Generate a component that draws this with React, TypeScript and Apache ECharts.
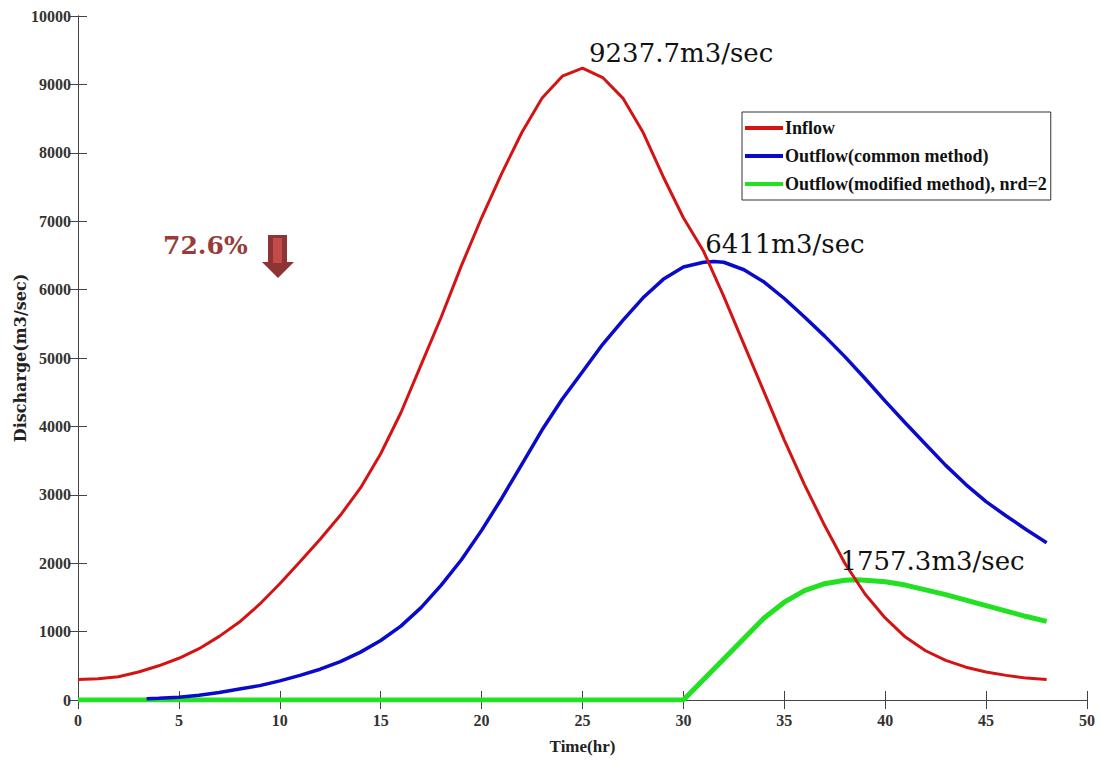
import React, { useEffect, useRef } from "react";
import * as echarts from "echarts";

const inflowTime = [0, 1, 2, 3, 4, 5, 6, 7, 8, 9, 10, 11, 12, 13, 14, 15, 16, 17, 18, 19, 20, 21, 22, 23, 24, 25, 26, 27, 28, 29, 30, 31, 32, 33, 34, 35, 36, 37, 38, 39, 40, 41, 42, 43, 44, 45, 46, 47, 48];
const inflow = [300, 310, 340, 410, 500, 610, 750, 930, 1140, 1400, 1700, 2020, 2350, 2700, 3100, 3600, 4200, 4900, 5600, 6350, 7050, 7700, 8300, 8800, 9120, 9237.7, 9100, 8800, 8300, 7650, 7050, 6560, 5900, 5200, 4500, 3800, 3150, 2550, 2000, 1550, 1200, 920, 720, 580, 480, 410, 360, 320, 300];

const commonTime = [3.4, 4, 5, 6, 7, 8, 9, 10, 11, 12, 13, 14, 15, 16, 17, 18, 19, 20, 21, 22, 23, 24, 25, 26, 27, 28, 29, 30, 31, 31.5, 32, 33, 34, 35, 36, 37, 38, 39, 40, 41, 42, 43, 44, 45, 46, 47, 48];
const commonOutflow = [20, 25, 40, 70, 110, 160, 210, 280, 360, 450, 560, 700, 870, 1080, 1350, 1680, 2050, 2480, 2950, 3450, 3950, 4400, 4800, 5200, 5550, 5880, 6150, 6330, 6400, 6411, 6400, 6290, 6110, 5870, 5600, 5320, 5020, 4700, 4370, 4050, 3740, 3430, 3150, 2900, 2690, 2490, 2300];

const modifiedTime = [0, 5, 10, 15, 20, 25, 30, 31, 32, 33, 34, 35, 36, 37, 38, 38.5, 39, 40, 41, 42, 43, 44, 45, 46, 47, 48];
const modifiedOutflow = [0, 0, 0, 0, 0, 0, 0, 300, 600, 900, 1200, 1430, 1600, 1700, 1750, 1757.3, 1752, 1730, 1680, 1610, 1540, 1460, 1380, 1300, 1220, 1150];

const seriesNames = ["Inflow", "Outflow(common method)", "Outflow(modified method), nrd=2"];
const seriesColors = ["#D41414", "#0A0ACB", "#22E022"];

const peakLabels = ["9237.7m3/sec", "6411m3/sec", "1757.3m3/sec"];
const peakCoords = [[25, 9237.7], [31.5, 6411], [38.5, 1757.3]];

const reductionText = "72.6%";

export default function App() {
  const ref = useRef<HTMLDivElement>(null);
  useEffect(() => {
    document.body.style.margin = "0";
    const chart = echarts.init(ref.current!, null, { renderer: "svg" });
    const tickFont = { fontFamily: "Liberation Serif", fontWeight: "bold", fontSize: 16, color: "#333" };
    const pair = (ts: number[], vs: number[]) => ts.map((t, i) => [t, vs[i]]);
    const peakOffsets = [[7, -15], [-8, -17], [-14, -18]];
    const mk = (i: number) => ({
      symbol: "circle",
      symbolSize: 1,
      itemStyle: { color: "rgba(0,0,0,0)" },
      label: {
        show: true,
        formatter: peakLabels[i],
        position: peakOffsets[i],
        align: "left",
        verticalAlign: "middle",
        fontFamily: "DejaVu Serif",
        fontSize: 26,
        color: "#111",
      },
      data: [{ coord: peakCoords[i] }],
    });
    const axisLine = { show: true, lineStyle: { color: "#444", width: 1 } };
    const tick = { show: true, inside: true, length: 9, lineStyle: { color: "#444" } };
    chart.setOption({
      animation: false,
      backgroundColor: "#fff",
      grid: { left: 78, right: 14, top: 16, bottom: 66, containLabel: false, outerBoundsMode: "none" },
      legend: {
        orient: "vertical",
        left: 742,
        top: 112,
        data: seriesNames,
        icon: "rect",
        itemWidth: 38,
        itemHeight: 4,
        itemGap: 10,
        padding: [7, 4, 7, 3],
        borderColor: "#333",
        borderWidth: 1,
        backgroundColor: "#fff",
        textStyle: { fontFamily: "Liberation Serif", fontWeight: "bold", fontSize: 18, color: "#111", padding: [0, 0, 0, -3] },
      },
      xAxis: [
        {
          type: "value",
          position: "bottom",
          min: 0,
          max: 50,
          interval: 5,
          name: "Time(hr)",
          nameLocation: "middle",
          nameGap: 38,
          nameMoveOverlap: false,
          nameTextStyle: { fontFamily: "Liberation Serif", fontWeight: "bold", fontSize: 17, color: "#222" },
          axisLine,
          axisTick: tick,
          axisLabel: { ...tickFont, margin: 12, formatter: (v: number) => String(v) },
          splitLine: { show: false },
        },
        {
          type: "value",
          position: "top",
          min: 0,
          max: 50,
          interval: 5,
          axisLine,
          axisTick: tick,
          axisLabel: { show: false },
          splitLine: { show: false },
        },
      ],
      yAxis: [
        {
          type: "value",
          position: "left",
          min: 0,
          max: 10000,
          interval: 1000,
          name: "Discharge(m3/sec)",
          nameLocation: "middle",
          nameGap: 50,
          nameMoveOverlap: false,
          nameTextStyle: { fontFamily: "DejaVu Serif", fontWeight: "bold", fontSize: 16, color: "#222" },
          axisLine,
          axisTick: tick,
          axisLabel: { ...tickFont, margin: 7, formatter: (v: number) => String(v) },
          splitLine: { show: false },
        },
        {
          type: "value",
          position: "right",
          min: 0,
          max: 10000,
          interval: 1000,
          axisLine,
          axisTick: tick,
          axisLabel: { show: false },
          splitLine: { show: false },
        },
      ],
      series: [
        {
          name: seriesNames[2],
          type: "line",
          data: pair(modifiedTime, modifiedOutflow),
          showSymbol: false,
          color: seriesColors[2],
          lineStyle: { color: seriesColors[2], width: 5 },
          markPoint: mk(2),
        },
        {
          name: seriesNames[1],
          type: "line",
          data: pair(commonTime, commonOutflow),
          showSymbol: false,
          color: seriesColors[1],
          lineStyle: { color: seriesColors[1], width: 3.5 },
          markPoint: mk(1),
        },
        {
          name: seriesNames[0],
          type: "line",
          data: pair(inflowTime, inflow),
          showSymbol: false,
          color: seriesColors[0],
          lineStyle: { color: seriesColors[0], width: 3 },
          markPoint: mk(0),
        },
      ],
      graphic: [
        {
          type: "text",
          left: 163,
          top: 233,
          style: { text: reductionText, fontFamily: "DejaVu Serif", fontWeight: "bold", fontSize: 25, fill: "#973B3B" },
        },
        {
          type: "polygon",
          shape: { points: [[268, 235], [287, 235], [287, 262], [294, 262], [278, 278], [262, 262], [268, 262]] },
          style: { fill: "#8E3434" },
        },
        {
          type: "rect",
          shape: { x: 273, y: 238, width: 9, height: 25 },
          style: { fill: "#C24C4A" },
        },
      ],
    });
    return () => chart.dispose();
  }, []);
  return <div ref={ref} style={{ width: 1101, height: 766, position: "absolute", left: 0, top: 0 }} />;
}
